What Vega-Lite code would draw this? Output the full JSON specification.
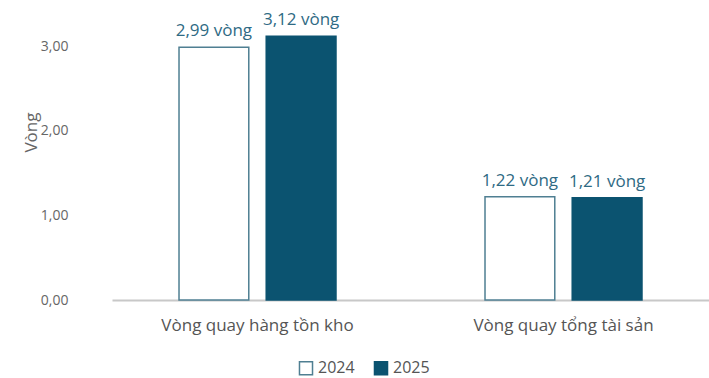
{
  "$schema": "https://vega.github.io/schema/vega-lite/v6.json",
  "width": 597,
  "height": 296,
  "autosize": "none",
  "padding": {"left": 112, "top": 4, "right": 0, "bottom": 78},
  "background": "white",
  "config": {
    "view": {"stroke": null},
    "font": "Open Sans"
  },
  "data": {
    "values": [
      {"metric": "Vòng quay hàng tồn kho", "year": "2024", "value": 2.99, "label": "2,99 vòng"},
      {"metric": "Vòng quay hàng tồn kho", "year": "2025", "value": 3.12, "label": "3,12 vòng"},
      {"metric": "Vòng quay tổng tài sản", "year": "2024", "value": 1.22, "label": "1,22 vòng"},
      {"metric": "Vòng quay tổng tài sản", "year": "2025", "value": 1.21, "label": "1,21 vòng"}
    ]
  },
  "encoding": {
    "x": {
      "field": "metric", "type": "nominal", "sort": null,
      "scale": {"paddingInner": 0.487, "paddingOuter": 0.219},
      "axis": {"title": null, "labelAngle": 0, "labelFontSize": 17, "labelColor": "#555555", "labelPadding": 17, "labelLimit": 400, "ticks": false, "domainColor": "#c8c8c8", "domainWidth": 2}
    },
    "xOffset": {"field": "year", "type": "nominal", "scale": {"paddingInner": 0.2, "paddingOuter": 0}},
    "y": {
      "field": "value", "type": "quantitative",
      "scale": {"domain": [0, 3.5], "nice": false},
      "axis": {"title": "Vòng", "titleFontSize": 17, "titleFontWeight": "normal", "titleColor": "#666666", "titlePadding": 0, "titleY": 128, "values": [0, 1, 2, 3], "format": ".2f", "labelExpr": "replace(datum.label, '.', ',')", "labelFontSize": 14, "labelColor": "#666666", "labelPadding": 44, "ticks": false, "domain": false, "grid": false}
    }
  },
  "layer": [
    {
      "mark": {"type": "bar", "strokeWidth": 1.5},
      "encoding": {
        "fill": {
          "field": "year", "type": "nominal",
          "scale": {"domain": ["2024", "2025"], "range": ["#ffffff", "#0b5370"]},
          "legend": {"title": null, "orient": "none", "legendX": 186, "legendY": 356, "direction": "horizontal", "symbolType": "square", "symbolSize": 170, "symbolStrokeWidth": 1.5, "labelFontSize": 16, "labelColor": "#555555", "columnPadding": 16, "labelOffset": 4}
        },
        "stroke": {
          "field": "year", "type": "nominal",
          "scale": {"domain": ["2024", "2025"], "range": ["#4f7f92", "#0b5370"]},
          "legend": null
        }
      }
    },
    {
      "mark": {"type": "text", "baseline": "bottom", "dy": -7, "fontSize": 17, "color": "#2f6a84"},
      "encoding": {"text": {"field": "label"}}
    }
  ]
}
